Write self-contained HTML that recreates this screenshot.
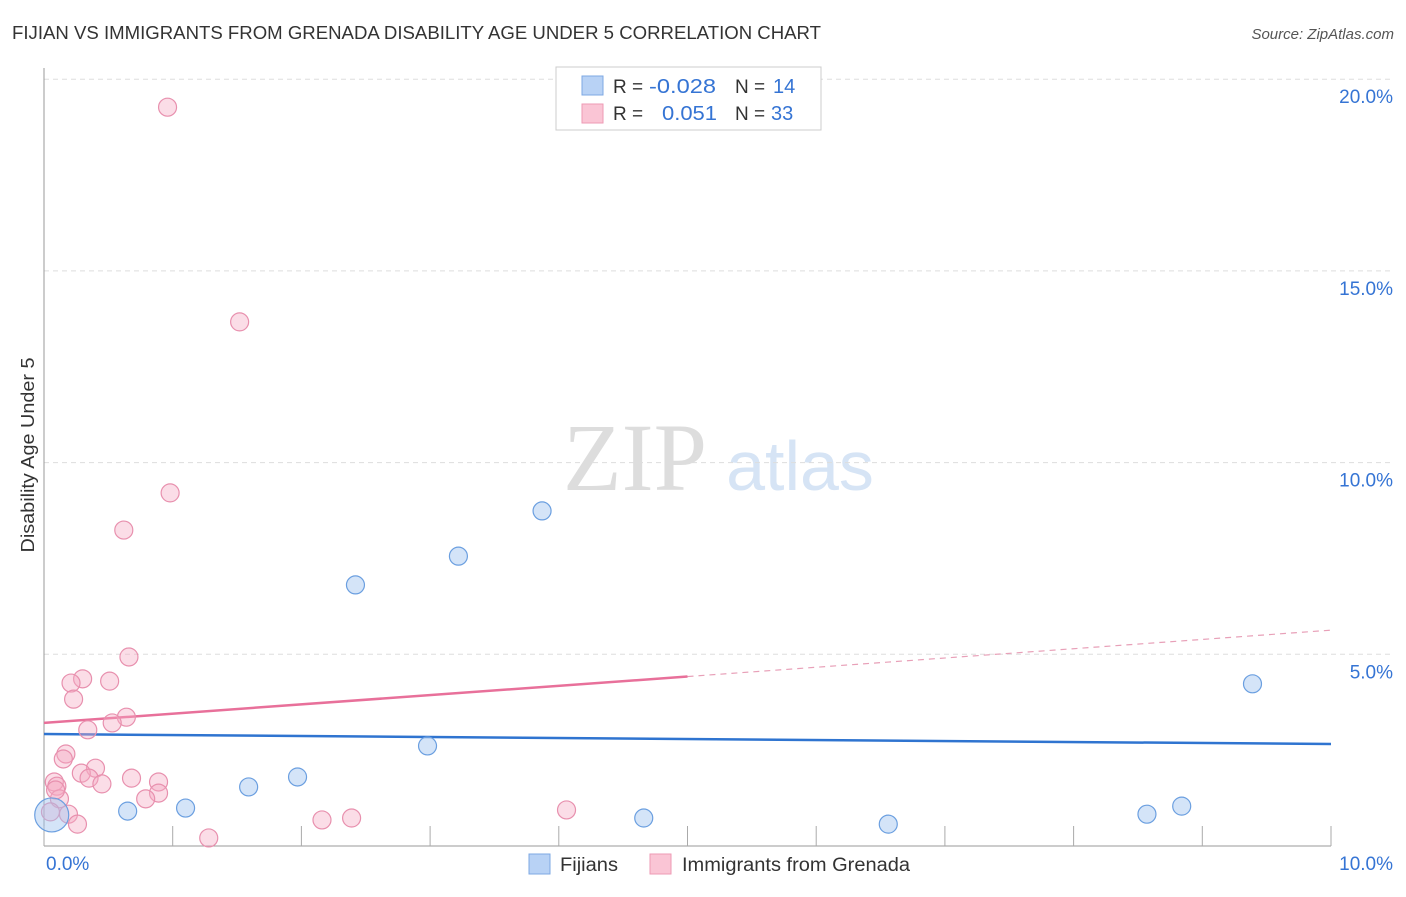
<!DOCTYPE html>
<html><head><meta charset="utf-8"><style>
body{margin:0;background:#fff;font-family:"Liberation Sans",sans-serif;}
svg text{font-family:"Liberation Sans",sans-serif;}
</style></head><body>
<svg id="c" width="1406" height="892">
<text x="12" y="39" font-size="18" fill="#333" textLength="809" lengthAdjust="spacingAndGlyphs">FIJIAN VS IMMIGRANTS FROM GRENADA DISABILITY AGE UNDER 5 CORRELATION CHART</text>
<text x="1394" y="39" font-size="15" fill="#555" font-style="italic" text-anchor="end">Source: ZipAtlas.com</text>
<text x="0" y="0" font-size="18" fill="#333" text-anchor="middle" textLength="195" lengthAdjust="spacingAndGlyphs" transform="translate(34,455) rotate(-90)">Disability Age Under 5</text>
<text x="635" y="490" font-size="96" fill="#ddd" style="font-family:'Liberation Serif',serif" text-anchor="middle">ZIP</text>
<text x="800" y="490" font-size="70" fill="#d6e4f5" text-anchor="middle">atlas</text>
<g id="grid"></g>
<g id="axes"></g>
<g id="trend"></g>
<g id="pts"></g>
<g>
<rect x="556" y="67" width="265" height="63" fill="#fff" stroke="#ccc"/>
<rect x="582" y="76" width="21" height="19" fill="#b8d2f5" stroke="#7ea8e3"/>
<rect x="582" y="104" width="21" height="19" fill="#fac5d5" stroke="#ee9ab4"/>
<text x="613" y="93" font-size="19" fill="#333">R = </text><text x="649" y="93" font-size="20" fill="#3574d4" textLength="67" lengthAdjust="spacingAndGlyphs">-0.028</text>
<text x="735" y="93" font-size="19" fill="#333">N = </text><text x="773" y="93" font-size="20" fill="#3574d4">14</text>
<text x="613" y="120" font-size="19" fill="#333">R = </text><text x="662" y="120" font-size="20" fill="#3574d4" textLength="55" lengthAdjust="spacingAndGlyphs">0.051</text>
<text x="735" y="120" font-size="19" fill="#333">N = </text><text x="771" y="120" font-size="20" fill="#3574d4">33</text>
</g>
<g>
<rect x="529" y="854" width="21" height="20" fill="#b8d2f5" stroke="#7ea8e3"/>
<text x="560" y="871" font-size="19" fill="#333" textLength="58" lengthAdjust="spacingAndGlyphs">Fijians</text>
<rect x="650" y="854" width="21" height="20" fill="#fac5d5" stroke="#ee9ab4"/>
<text x="682" y="871" font-size="19" fill="#333" textLength="228" lengthAdjust="spacingAndGlyphs">Immigrants from Grenada</text>
</g>
</svg>
<script>
const yTicks=[5,10,15,20];
const yTickLabels=["5.0%","10.0%","15.0%","20.0%"];
const xTicks=[0,1,2,3,4,5,6,7,8,9,10];
const fijiX=[0.06,0.65,1.10,1.59,1.97,2.42,2.98,3.22,3.87,4.66,6.56,8.57,8.84,9.39];
const fijiY=[0.81,0.91,0.99,1.54,1.80,6.81,2.61,7.56,8.74,0.73,0.57,0.83,1.04,4.23];
const grenX=[0.96,1.52,0.98,0.62,0.66,0.30,0.21,0.51,0.23,0.64,0.53,0.34,0.17,0.15,0.40,0.29,0.35,0.68,0.89,0.08,0.10,0.45,0.89,0.79,0.12,0.19,0.26,0.05,1.28,2.16,2.39,4.06,0.09];
const grenY=[19.27,13.67,9.21,8.24,4.93,4.36,4.25,4.30,3.83,3.36,3.21,3.03,2.40,2.27,2.03,1.90,1.77,1.77,1.67,1.67,1.56,1.62,1.38,1.23,1.23,0.83,0.57,0.89,0.21,0.68,0.73,0.94,1.46];
const fijiTrend=[2.92,2.66];
const grenTrend=[3.21,5.63];
const grenSolidEnd=5;
const NS="http://www.w3.org/2000/svg";
const sx=v=>44+v*128.7, sy=v=>846-v*38.34;
function mk(p,t,a){const e=document.createElementNS(NS,t);for(const k in a)e.setAttribute(k,a[k]);document.getElementById(p).appendChild(e);return e;}
yTicks.forEach((t,i)=>{
 const l=mk('grid','line',{x1:44,x2:1392,y1:sy(t),y2:sy(t),stroke:'#ddd','stroke-dasharray':'5,4'});
 
 
 const tx=mk('grid','text',{x:1393,y:sy(t)+24,'font-size':19,fill:'#3574d4','text-anchor':'end'});
 tx.textContent=yTickLabels[i];
 
 
});
const ya=mk('axes','line',{x1:44,x2:44,y1:68,y2:846,stroke:'#999'});


const xa=mk('axes','line',{x1:44,x2:1331,y1:846,y2:846,stroke:'#999'});


xTicks.forEach(t=>{const l=mk('axes','line',{x1:sx(t),x2:sx(t),y1:826,y2:846,stroke:'#aaa'});
 
 });
[[0,"0.0%","start",46],[10,"10.0%","end",1393]].forEach(([v,s,a,x])=>{const t=mk('axes','text',{x:x,y:870,'font-size':19,fill:'#3574d4','text-anchor':a});t.textContent=s;
 
 });
const gAt=x=>grenTrend[0]+(grenTrend[1]-grenTrend[0])*x/10;
let t1=mk('trend','line',{x1:sx(0),y1:sy(fijiTrend[0]),x2:sx(10),y2:sy(fijiTrend[1]),stroke:'#2f74d0','stroke-width':2.5});


let t2=mk('trend','line',{x1:sx(0),y1:sy(gAt(0)),x2:sx(grenSolidEnd),y2:sy(gAt(grenSolidEnd)),stroke:'#e8709a','stroke-width':2.5});


let t3=mk('trend','line',{x1:sx(grenSolidEnd),y1:sy(gAt(grenSolidEnd)),x2:sx(10),y2:sy(gAt(10)),stroke:'#e8a0b8','stroke-width':1.2,'stroke-dasharray':'6,5'});


grenX.forEach((x,i)=>{const c=mk('pts','circle',{cx:sx(x),cy:sy(grenY[i]),r:9,fill:'rgba(246,170,196,0.4)',stroke:'#e890ae','stroke-width':1.2});
 
 });
fijiX.forEach((x,i)=>{const c=mk('pts','circle',{cx:sx(x),cy:sy(fijiY[i]),r:i==0?17:9,fill:'rgba(160,196,240,0.45)',stroke:'#6b9fe0','stroke-width':1.2});
 
 });
</script>
</body></html>
